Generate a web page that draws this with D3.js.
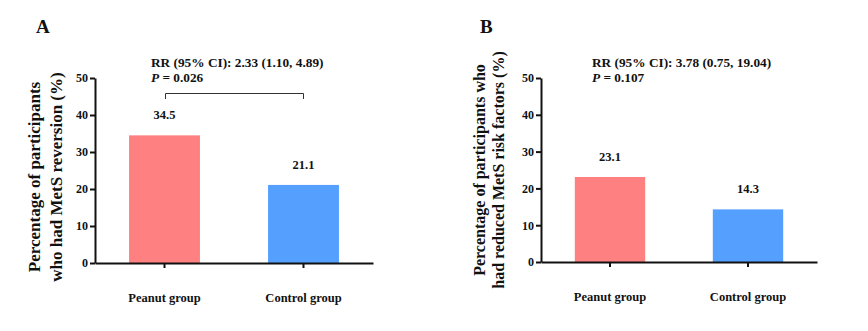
<!DOCTYPE html>
<meta charset="utf-8">
<style>
  body { margin: 0; background: #fff; }
  svg text { font-family: "Times New Roman", Times, "Liberation Serif", "DejaVu Serif", serif; font-weight: bold; fill: #111; }
  .axis path, .axis line { stroke: #111; stroke-width: 2; }
</style>
<div id="chart"></div>
<script src="https://cdn.jsdelivr.net/npm/d3@7"></script>
<script>
// data
var groups = ["Peanut group", "Control group"];
var valuesA = [34.5, 21.1];
var valuesB = [23.1, 14.3];
var yTicks = [0, 10, 20, 30, 40, 50];
var barColors = ["#FF8080", "#55A0FF"];

var svg = d3.select("#chart").append("svg")
  .attr("width", 868)
  .attr("height", 331);

// panel A
drawPanel({
  letter: "A", letterX: 36,
  left: 95, right: 373, top: 78, bottom: 263,
  values: valuesA,
  yLabel: ["Percentage of participants", "who had MetS reversion (%)"],
  yLabelX: [40, 62], yLabelY: 177, yLabelSize: 17,
  rr: "RR (95% CI): 2.33 (1.10, 4.89)", p: " = 0.026", rrX: 151,
  bracket: true
});

// panel B
drawPanel({
  letter: "B", letterX: 480,
  left: 541, right: 817, top: 78, bottom: 262,
  values: valuesB,
  yLabel: ["Percentage of participants who", "had reduced MetS risk factors (%)"],
  yLabelX: [485, 504], yLabelY: 170, yLabelSize: 16,
  rr: "RR (95% CI): 3.78 (0.75, 19.04)", p: " = 0.107", rrX: 592,
  bracket: false
});

function drawPanel(o) {
  var x = d3.scaleBand().domain(groups)
    .range([o.left, o.right])
    .paddingInner(0.49).paddingOuter(0.245);
  var y = d3.scaleLinear().domain([0, 50]).range([o.bottom, o.top]);

  var g = svg.append("g");

  g.append("text")
    .attr("x", o.letterX).attr("y", 33)
    .style("font-size", "19px")
    .text(o.letter);

  // bars
  g.selectAll("rect.bar")
    .data(o.values)
    .enter().append("rect")
      .attr("class", "bar")
      .attr("x", function(d, i) { return x(groups[i]); })
      .attr("y", function(d) { return y(d); })
      .attr("width", x.bandwidth())
      .attr("height", function(d) { return y(0) - y(d); })
      .attr("fill", function(d, i) { return barColors[i]; });

  // value labels
  g.selectAll("text.val")
    .data(o.values)
    .enter().append("text")
      .attr("class", "val")
      .attr("x", function(d, i) { return x(groups[i]) + x.bandwidth() / 2; })
      .attr("y", function(d) { return y(d) - 16; })
      .attr("text-anchor", "middle")
      .style("font-size", "12.5px")
      .text(function(d) { return d.toFixed(1); });

  // y axis
  var yAxis = g.append("g")
    .attr("class", "axis")
    .attr("transform", "translate(" + o.left + ",0)")
    .call(d3.axisLeft(y).tickValues(yTicks).tickSize(5).tickSizeOuter(0));
  yAxis.attr("font-family", null);
  yAxis.selectAll("text").style("font-size", "12px").attr("x", -7);

  // x axis
  var xAxis = g.append("g")
    .attr("class", "axis")
    .attr("transform", "translate(0," + o.bottom + ")")
    .call(d3.axisBottom(x).tickSize(5).tickSizeOuter(0));
  xAxis.attr("font-family", null);
  xAxis.selectAll("text").style("font-size", "12.5px").attr("y", 30);

  // y label
  o.yLabel.forEach(function(t, i) {
    g.append("text")
      .attr("transform", "translate(" + o.yLabelX[i] + "," + o.yLabelY + ") rotate(-90)")
      .attr("text-anchor", "middle")
      .style("font-size", o.yLabelSize + "px")
      .text(t);
  });

  // annotation
  g.append("text")
    .attr("x", o.rrX).attr("y", 67)
    .style("font-size", "13.3px")
    .text(o.rr);
  var pt = g.append("text")
    .attr("x", o.rrX).attr("y", 82)
    .style("font-size", "13.3px");
  pt.append("tspan").style("font-style", "italic").text("P");
  pt.append("tspan").text(o.p);

  if (o.bracket) {
    var x1 = x(groups[0]) + x.bandwidth() / 2 + 1;
    var x2 = x(groups[1]) + x.bandwidth() / 2;
    g.append("path")
      .attr("d", "M" + x1 + ",99V93.5H" + x2 + "V99")
      .attr("fill", "none")
      .attr("stroke", "#333")
      .attr("stroke-width", 1);
  }
}
</script>
